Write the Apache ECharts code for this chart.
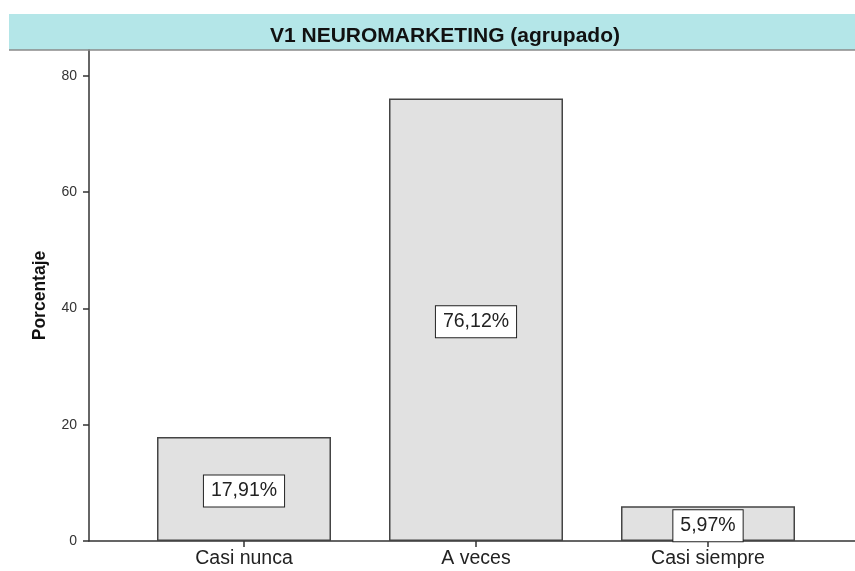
<!DOCTYPE html>
<html>
<head>
<meta charset="utf-8">
<script src="https://cdn.jsdelivr.net/npm/echarts@6/dist/echarts.min.js"></script>
<style>html,body{margin:0;padding:0;background:#fff}#c{width:855px;height:571px}</style>
</head>
<body>
<div id="c"></div>
<script>
const categories = ['Casi nunca', 'A veces', 'Casi siempre'];
const values = [17.91, 76.12, 5.97];
const yTicks = [0, 20, 40, 60, 80];
const titleText = 'V1 NEUROMARKETING (agrupado)';
const yName = 'Porcentaje';

const chart = echarts.init(document.getElementById('c'));
const font = 'Liberation Sans, Arial, sans-serif';
const gridTop = 50, gridBottom = 30; // plot from y=50 to y=541
const yMax = 84.47;
chart.setOption({
  animation: false,
  backgroundColor: '#ffffff',
  graphic: [
    { type: 'rect', shape: { x: 9, y: 14, width: 846, height: 36 }, style: { fill: '#b4e6e8' }, z: 0 },
    { type: 'line', shape: { x1: 9, y1: 50, x2: 855, y2: 50 }, style: { stroke: '#8a8a8a', lineWidth: 1.5 }, z: 1 }
  ],
  title: {
    text: titleText, left: 440, top: 21, textAlign: 'center',
    textStyle: { fontFamily: font, fontSize: 21, fontWeight: 'bold', color: '#111' }
  },
  grid: [
    { left: 128, right: 31, top: gridTop, bottom: gridBottom },
    { left: 89, right: 0, top: gridTop, bottom: gridBottom }
  ],
  xAxis: [
    {
      type: 'category', gridIndex: 0, data: categories,
      axisLine: { show: false },
      axisTick: { show: true, alignWithLabel: true, length: 6, lineStyle: { color: '#333', width: 1.5 } },
      axisLabel: { fontFamily: font, fontSize: 19.5, color: '#222', margin: 8 }
    },
    {
      type: 'value', gridIndex: 1, min: 0, max: 1,
      axisLine: { show: true, onZero: false, lineStyle: { color: '#333', width: 1.5 } },
      axisTick: { show: false }, axisLabel: { show: false }, splitLine: { show: false }
    }
  ],
  yAxis: [
    {
      type: 'value', gridIndex: 0, min: 0, max: yMax, show: false, splitLine: { show: false }
    },
    {
      type: 'value', gridIndex: 1, min: 0, max: yMax,
      name: yName, nameLocation: 'middle', nameGap: 40, nameRotate: 90,
      nameTextStyle: { fontFamily: font, fontSize: 17.5, fontWeight: 'bold', color: '#111' },
      axisLine: { show: true, lineStyle: { color: '#333', width: 1.5 } },
      axisTick: { show: true, length: 6, customValues: yTicks, lineStyle: { color: '#333', width: 1.5 } },
      axisLabel: {
        fontFamily: font, fontSize: 14, color: '#333', margin: 12,
        customValues: yTicks
      },
      splitLine: { show: false }
    }
  ],
  series: [{
    type: 'bar', xAxisIndex: 0, yAxisIndex: 0, data: values, barWidth: 174,
    itemStyle: { color: '#e1e1e1', borderColor: '#444', borderWidth: 1.5 },
    label: {
      show: true, position: 'inside', offset: [0, 2],
      formatter: p => p.value.toFixed(2).replace('.', ',') + '%',
      fontFamily: font, fontSize: 19.5, color: '#222', lineHeight: 20,
      backgroundColor: '#ffffff', borderColor: '#222', borderWidth: 1,
      padding: [6, 7, 5, 7]
    }
  }]
});
</script>
</body>
</html>
